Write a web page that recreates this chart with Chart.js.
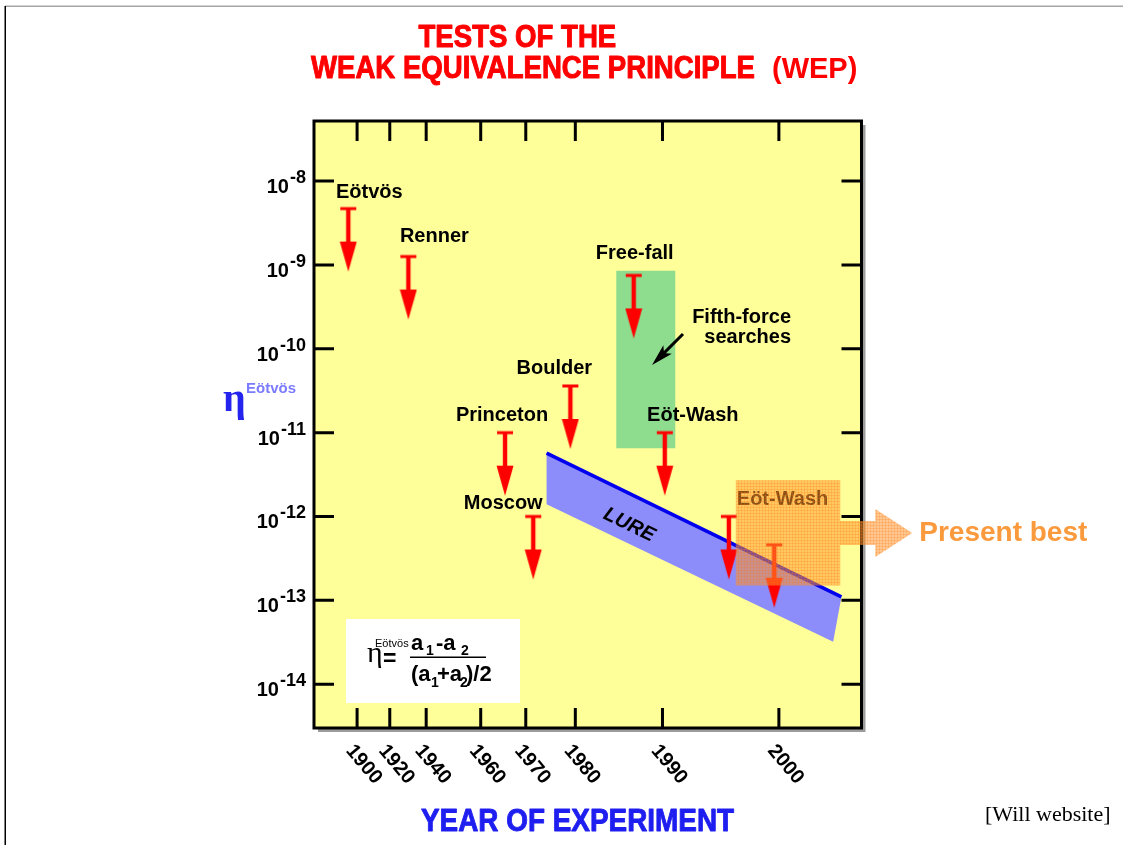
<!DOCTYPE html>
<html>
<head>
<meta charset="utf-8">
<title>Tests of the Weak Equivalence Principle</title>
<script src="https://cdn.jsdelivr.net/npm/chart.js@4.4.1/dist/chart.umd.min.js"></script>
<style>
  html, body { margin: 0; padding: 0; background: #ffffff; }
  canvas { display: block; }
</style>
</head>
<body>
<canvas id="wep" width="1123" height="845"></canvas>
<script>
// ---------------------------------------------------------------
// Data
// ---------------------------------------------------------------
const yearTicks = [1900, 1920, 1940, 1960, 1970, 1980, 1990, 2000];
const etaDecades = [-14, -13, -12, -11, -10, -9, -8];

// upper limits on eta from individual experiments
const experimentNames  = ['Eötvös', 'Renner', 'Princeton', 'Moscow', 'Boulder', 'Free-fall', 'Eöt-Wash', 'Eöt-Wash', 'Eöt-Wash'];
const experimentYears  = [1895.9, 1930.2, 1965.4, 1971.5, 1979.0, 1986.7, 1990.2, 1995.7, 1999.6];
const etaUpperLimits   = [4.7e-9, 1.26e-9, 1.0e-11, 1.0e-12, 3.6e-11, 7.5e-10, 1.0e-11, 1.0e-12, 4.6e-13];

// fifth-force search era
const fifthForceYears = [1984.7, 1991.1];
const fifthForceEta   = [8.5e-10, 6.5e-12];
const fifthForcePointer = [1988.8, 6.4e-11];   // where the note points

// lunar laser ranging band: upper-left, upper-right, lower-right, lower-left
const lureYears = [1974.2, 2005.3, 2004.6, 1974.2];
const lureEta   = [5.7e-12, 1.1e-13, 3.2e-14, 1.4e-12];

// present-best torsion-balance region
const presentBestYears = [1996.3, 2005.2];
const presentBestEta   = [2.7e-12, 1.5e-13];

// ---------------------------------------------------------------
// Layout / style (kept apart from the values above)
// ---------------------------------------------------------------
const SANS  = "'Liberation Sans', Arial, Helvetica, sans-serif";
const SERIF = "'Liberation Serif', 'Times New Roman', serif";
const PLOT_YELLOW = '#ffff99';
const LIMIT_RED = '#ff0000';
const LABEL_FONT = 'bold 20px ' + SANS;

// label placement relative to each limit marker: [dx of text centre, dy of baseline]
const labelOffsets = [[21, -11], [26, -15], [-3, -12], [-30, -7], [-16, -12], [1, -16], [28, -12], null, null];

// the year axis is stretched unevenly: each knot is [year, fraction of axis width]
const ERA_KNOTS = [[1880, 0], [1900, 0.0787], [1920, 0.1384], [1940, 0.2049], [1960, 0.3045],
                   [1970, 0.3868], [1980, 0.4773], [1990, 0.6365], [2000, 0.8491], [2007, 1]];

function eraFraction(year) {
  let i = 1;
  while (i < ERA_KNOTS.length - 1 && year > ERA_KNOTS[i][0]) i++;
  const [y0, f0] = ERA_KNOTS[i - 1], [y1, f1] = ERA_KNOTS[i];
  return f0 + (year - y0) * (f1 - f0) / (y1 - y0);
}
function eraYear(frac) {
  let i = 1;
  while (i < ERA_KNOTS.length - 1 && frac > ERA_KNOTS[i][1]) i++;
  const [y0, f0] = ERA_KNOTS[i - 1], [y1, f1] = ERA_KNOTS[i];
  return y0 + (frac - f0) * (y1 - y0) / (f1 - f0);
}

// piecewise-linear year scale
class EraScale extends Chart.LinearScale {
  buildTicks() { return yearTicks.map(v => ({ value: v })); }
  getPixelForValue(value) { return value === null ? NaN : this.getPixelForDecimal(eraFraction(value)); }
  getValueForPixel(pixel) { return eraYear(this.getDecimalForPixel(pixel)); }
}
EraScale.id = 'era';
EraScale.defaults = {};
Chart.register(EraScale);

// ---------------------------------------------------------------
// Helpers
// ---------------------------------------------------------------
function txt(ctx, s, x, y, o) {
  o = o || {};
  ctx.save();
  ctx.translate(x, y);
  if (o.rot) ctx.rotate(o.rot);
  if (o.sx) ctx.scale(o.sx, 1);
  ctx.font = o.font || LABEL_FONT;
  ctx.fillStyle = o.color || '#000';
  ctx.textAlign = o.align || 'left';
  ctx.textBaseline = o.baseline || 'alphabetic';
  ctx.fillText(s, 0, 0);
  if (o.stroke) {
    ctx.lineWidth = o.stroke;
    ctx.strokeStyle = o.color || '#000';
    ctx.lineJoin = 'round';
    ctx.strokeText(s, 0, 0);
  }
  ctx.restore();
}

// upper-limit marker: bar at the limit, shaft and head pointing down
function makeLimitArrow(color) {
  const half = 66, w = 18;
  const c = document.createElement('canvas');
  c.width = w; c.height = half * 2;
  const g = c.getContext('2d');
  const cx = w / 2, y0 = half;
  g.fillStyle = color;
  g.fillRect(cx - 8, y0 - 1.5, 16, 3);
  g.fillRect(cx - 2.2, y0, 4.4, 35);
  g.beginPath();
  g.moveTo(cx - 8.5, y0 + 33);
  g.lineTo(cx + 8.5, y0 + 33);
  g.lineTo(cx, y0 + 63);
  g.closePath();
  g.fill();
  return c;
}

function makeOrangePattern(ctx) {
  const c = document.createElement('canvas');
  c.width = 3; c.height = 3;
  const g = c.getContext('2d');
  g.fillStyle = 'rgba(255,150,45,0.52)';
  g.fillRect(0, 0, 3, 3);
  g.fillStyle = 'rgba(255,120,20,0.22)';
  g.fillRect(0, 0, 3, 1);
  g.fillRect(0, 0, 1, 3);
  return ctx.createPattern(c, 'repeat');
}

const pts = (xs, ys) => xs.map((x, i) => ({ x: x, y: ys[i] }));
const rectPts = (xs, ys) => [
  { x: xs[0], y: ys[0] }, { x: xs[1], y: ys[0] }, { x: xs[1], y: ys[1] }, { x: xs[0], y: ys[1] }
];

// ---------------------------------------------------------------
// Plugin: frame, axes and annotations
// ---------------------------------------------------------------
const frame = {
  id: 'frame',
  beforeDraw(chart) {
    const { ctx, chartArea: a } = chart;
    ctx.save();
    // page border
    ctx.fillStyle = '#a6a6a6';
    ctx.fillRect(5, 5.5, 1118, 1.5);
    ctx.fillStyle = '#000';
    ctx.fillRect(4.5, 6, 1.5, 839);
    // plot panel with drop shadow
    ctx.fillStyle = '#9c9c9c';
    ctx.fillRect(a.left + 4, a.top + 4, a.right - a.left, a.bottom - a.top);
    ctx.fillStyle = PLOT_YELLOW;
    ctx.fillRect(a.left, a.top, a.right - a.left, a.bottom - a.top);
    ctx.restore();
  },
  beforeDatasetsDraw(chart) {
    const { ctx, chartArea: a, scales } = chart;
    const xs = scales.x, ys = scales.y;
    ctx.save();
    ctx.strokeStyle = '#000';
    ctx.lineWidth = 3;
    ctx.strokeRect(a.left, a.top, a.right - a.left, a.bottom - a.top);
    // inward tick marks on all four sides
    ctx.beginPath();
    xs.ticks.forEach(t => {
      const px = xs.getPixelForValue(t.value);
      ctx.moveTo(px, a.top); ctx.lineTo(px, a.top + 20);
      ctx.moveTo(px, a.bottom); ctx.lineTo(px, a.bottom - 20);
    });
    ys.ticks.forEach(t => {
      const py = ys.getPixelForValue(t.value);
      ctx.moveTo(a.left, py); ctx.lineTo(a.left + 20, py);
      ctx.moveTo(a.right, py); ctx.lineTo(a.right - 20, py);
    });
    ctx.stroke();

    // y tick labels: 10 with superscript exponent
    const supFont = 'bold 18px ' + SANS;
    ys.ticks.forEach(t => {
      const py = ys.getPixelForValue(t.value);
      const exp = Math.round(Math.log10(t.value));
      const sup = '-' + Math.abs(exp);
      ctx.font = supFont;
      const sw = ctx.measureText(sup).width;
      const right = 306;
      txt(ctx, sup, right - sw, py + 2, { font: supFont });
      txt(ctx, '10', right - sw - 1, py + 12, { font: 'bold 20px ' + SANS, align: 'right' });
    });

    // x tick labels, slanted downwards
    xs.ticks.forEach(t => {
      const px = xs.getPixelForValue(t.value);
      txt(ctx, String(t.value), px, 741, {
        font: 'bold 20px ' + SANS, baseline: 'top', rot: 50 * Math.PI / 180
      });
    });

    // axis titles
    txt(ctx, 'η', 223, 411, { font: 'bold 40px ' + SERIF, color: '#2424ee' });
    txt(ctx, 'Eötvös', 246, 393, { font: 'bold 15px ' + SANS, color: '#7b7bff' });
    txt(ctx, 'YEAR OF EXPERIMENT', 421, 831, { font: 'bold 31px ' + SANS, color: '#1e1ef0', sx: 0.9, stroke: 0.9 });
    ctx.restore();
  },
  afterDatasetsDraw(chart) {
    const { ctx, scales } = chart;
    const xs = scales.x, ys = scales.y;
    ctx.save();

    // experiment names next to their limit markers
    const meta = chart.getDatasetMeta(3);
    meta.data.forEach((el, i) => {
      const off = labelOffsets[i];
      if (!off) return;
      txt(ctx, experimentNames[i], el.x + off[0], el.y + off[1], { align: 'center' });
    });

    // LURE label along the band
    const ulx = xs.getPixelForValue(lureYears[0]), uly = ys.getPixelForValue(lureEta[0]);
    const urx = xs.getPixelForValue(lureYears[1]), ury = ys.getPixelForValue(lureEta[1]);
    const lly = ys.getPixelForValue(lureEta[3]);
    const ang = Math.atan2(ury - uly, urx - ulx);
    const lx = ulx + (urx - ulx) * 0.28;
    const ly = uly + (ury - uly) * 0.28 + (lly - uly) * 0.62;
    txt(ctx, 'LURE', lx, ly, { font: 'italic bold 20px ' + SANS, align: 'center', baseline: 'middle', rot: ang });

    // fifth-force note with pointer
    const tx = xs.getPixelForValue(fifthForcePointer[0]), ty = ys.getPixelForValue(fifthForcePointer[1]);
    const bx = tx + 31, by = ty - 31;
    const d = Math.hypot(bx - tx, by - ty), ux = (bx - tx) / d, uy = (by - ty) / d;
    ctx.strokeStyle = '#000'; ctx.fillStyle = '#000'; ctx.lineWidth = 3;
    ctx.beginPath(); ctx.moveTo(bx, by); ctx.lineTo(tx + ux * 14, ty + uy * 14); ctx.stroke();
    ctx.beginPath();
    ctx.moveTo(tx, ty);
    ctx.lineTo(tx + ux * 22 - uy * 6, ty + uy * 22 + ux * 6);
    ctx.lineTo(tx + ux * 17, ty + uy * 17);
    ctx.lineTo(tx + ux * 22 + uy * 6, ty + uy * 22 - ux * 6);
    ctx.closePath(); ctx.fill();
    txt(ctx, 'Fifth-force', tx + 139, ty - 42, { align: 'right' });
    txt(ctx, 'searches', tx + 139, ty - 22, { align: 'right' });

    // definition of eta
    ctx.fillStyle = '#ffffff';
    ctx.fillRect(346, 619, 174, 84);
    txt(ctx, 'η', 367, 662, { font: '30px ' + SERIF });
    txt(ctx, 'Eötvös', 375, 647, { font: '11px ' + SANS });
    txt(ctx, '=', 383, 666, { font: 'bold 23px ' + SANS });
    ctx.fillStyle = '#000';
    ctx.fillRect(410, 656.5, 76, 1.5);
    const F = 'bold 22px ' + SANS, S = 'bold 14px ' + SANS;
    txt(ctx, 'a', 411, 650, { font: F });
    txt(ctx, '1', 426, 655, { font: S });
    txt(ctx, '-a', 436, 650, { font: F });
    txt(ctx, '2', 461, 655, { font: S });
    txt(ctx, '(a', 411, 681, { font: F });
    txt(ctx, '1', 431, 687, { font: S });
    txt(ctx, '+a', 437, 681, { font: F });
    txt(ctx, '2', 460, 687, { font: S });
    txt(ctx, ')/2', 466, 681, { font: F });

    // present-best region: label first, then the translucent orange overlay
    const pl = xs.getPixelForValue(presentBestYears[0]), pr = xs.getPixelForValue(presentBestYears[1]);
    const pt = ys.getPixelForValue(presentBestEta[0]), pb = ys.getPixelForValue(presentBestEta[1]);
    const pm = (pt + pb) / 2;
    txt(ctx, 'Eöt-Wash', pl + 1, pt + 25);
    ctx.beginPath();
    ctx.moveTo(pl, pt); ctx.lineTo(pr, pt); ctx.lineTo(pr, pm - 12);
    ctx.lineTo(pr + 35, pm - 12); ctx.lineTo(pr + 35, pm - 24); ctx.lineTo(pr + 72, pm);
    ctx.lineTo(pr + 35, pm + 24); ctx.lineTo(pr + 35, pm + 12); ctx.lineTo(pr, pm + 12);
    ctx.lineTo(pr, pb); ctx.lineTo(pl, pb); ctx.closePath();
    ctx.fillStyle = makeOrangePattern(ctx);
    ctx.fill();
    txt(ctx, 'Present best', pr + 79, pm + 8, { font: 'bold 28px ' + SANS, color: '#fb9a3c' });
    ctx.restore();
  },
  afterDraw(chart) {
    const { ctx } = chart;
    txt(ctx, 'TESTS OF THE', 418.5, 47, { font: 'bold 31px ' + SANS, color: '#ff0000', sx: 0.89, stroke: 1 });
    txt(ctx, 'WEAK EQUIVALENCE PRINCIPLE', 311, 78, { font: 'bold 31px ' + SANS, color: '#ff0000', sx: 0.89, stroke: 1 });
    txt(ctx, '(WEP)', 772, 78, { font: 'bold 29px ' + SANS, color: '#ff0000' });
    txt(ctx, '[Will website]', 985, 821, { font: '22px ' + SERIF, color: '#000' });
  }
};

// ---------------------------------------------------------------
// Chart
// ---------------------------------------------------------------
const limitArrow = makeLimitArrow(LIMIT_RED);

new Chart(document.getElementById('wep'), {
  type: 'scatter',
  data: {
    datasets: [
      {
        label: 'Fifth-force searches',
        type: 'line',
        data: rectPts(fifthForceYears, fifthForceEta),
        fill: 'shape',
        backgroundColor: '#8edc8e',
        borderWidth: 0,
        pointRadius: 0,
        order: 5
      },
      {
        label: 'LURE',
        type: 'line',
        data: pts(lureYears, lureEta),
        fill: 'shape',
        backgroundColor: '#8c8cfa',
        borderWidth: 0,
        pointRadius: 0,
        order: 4
      },
      {
        label: 'LURE upper edge',
        type: 'line',
        data: pts(lureYears.slice(0, 2), lureEta.slice(0, 2)),
        fill: false,
        borderColor: '#0000ee',
        borderWidth: 3.5,
        pointRadius: 0,
        order: 3
      },
      {
        label: 'Upper limits',
        data: pts(experimentYears, etaUpperLimits),
        pointStyle: limitArrow,
        pointRadius: 9,
        order: 2
      }
    ]
  },
  options: {
    responsive: false,
    animation: false,
    events: [],
    layout: { padding: { left: 314, top: 121, right: 1123 - 861.5, bottom: 845 - 728 } },
    scales: {
      x: { type: 'era', min: 1880, max: 2007, display: false },
      y: {
        type: 'logarithmic',
        min: Math.pow(10, -14.493),
        max: Math.pow(10, -7.283),
        display: false,
        afterBuildTicks: s => { s.ticks = etaDecades.map(e => ({ value: Math.pow(10, e) })); }
      }
    },
    plugins: {
      legend: { display: false },
      tooltip: { enabled: false },
      title: { display: false }
    }
  },
  plugins: [frame]
});
</script>
</body>
</html>
